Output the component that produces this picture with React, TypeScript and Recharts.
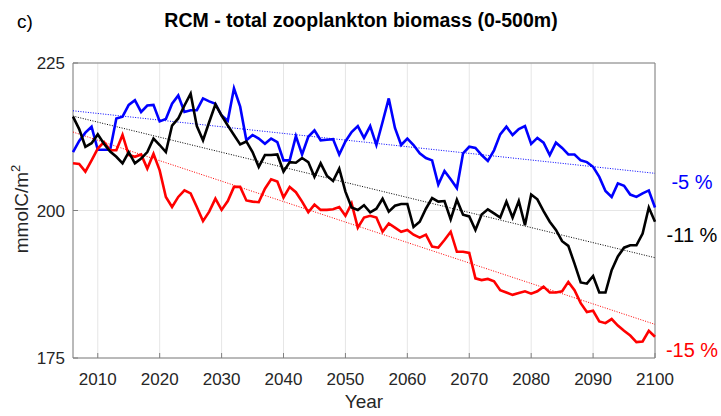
import { LineChart, Line, XAxis, YAxis, CartesianGrid, ReferenceLine, ReferenceArea } from 'recharts';

const FONT = '"Liberation Sans", Arial, Helvetica, sans-serif';

// annual means, 2006 to 2100
const firstYear = 2006;
const lastYear = 2100;

const blueSeries = [
  209.9, 211.8, 213.2, 214.2, 210.3, 210.3, 210.3, 215.6, 215.9, 217.9,
  218.7, 216.7, 217.8, 217.9, 215.1, 215.5, 218.1, 219.5, 216.7, 217.0,
  217.0, 219.0, 218.5, 218.1, 216.1, 215.2, 220.7, 217.6, 211.9, 212.8,
  212.2, 211.3, 212.2, 211.6, 208.5, 208.5, 212.6, 209.5, 212.5, 213.6,
  211.9, 212.0, 212.1, 209.5, 211.7, 213.3, 214.3, 212.3, 214.3, 211.1,
  215.0, 219.0, 214.0, 211.1, 212.2, 211.1, 209.7, 208.9, 208.5, 204.4,
  206.7, 205.3, 203.8, 209.7, 210.8, 210.6, 209.4, 208.4, 210.2, 212.9,
  214.2, 212.8, 213.8, 214.3, 211.3, 212.3, 211.5, 209.4, 211.5, 210.6,
  209.5, 209.5, 208.5, 208.2, 207.4, 205.7, 203.3, 202.3, 204.6, 204.2,
  202.7, 202.3, 202.9, 203.4, 200.5,
];

const blackSeries = [
  215.9, 213.8, 210.8, 211.4, 212.9, 211.3, 210.0, 209.1, 208.0, 209.9,
  208.0, 208.8, 209.9, 212.2, 211.1, 209.9, 214.4, 215.6, 217.8, 219.8,
  214.3, 211.9, 215.0, 218.0, 216.1, 214.4, 212.8, 211.2, 211.7, 209.9,
  207.4, 209.4, 209.4, 209.5, 206.6, 208.2, 208.1, 208.9, 208.2, 205.7,
  208.0, 205.9, 205.0, 207.1, 203.2, 200.5, 200.1, 200.9, 199.7, 200.3,
  202.0, 199.8, 200.8, 201.1, 201.1, 197.2, 198.1, 200.3, 202.1, 201.5,
  201.6, 198.5, 201.8, 199.3, 199.0, 196.7, 199.3, 200.2, 199.5, 198.8,
  201.5, 198.8, 201.6, 197.5, 202.7, 201.9, 199.9, 198.1, 196.7, 194.8,
  194.0, 191.0, 187.8, 187.6, 188.9, 186.1, 186.1, 189.9, 192.2, 193.7,
  194.1, 194.1, 196.1, 200.5, 198.1,
];

const redSeries = [
  208.0, 207.9, 206.6, 208.5, 210.5, 211.6, 210.2, 210.2, 212.8, 209.4,
  209.1, 209.5, 207.1, 209.6, 206.8, 202.3, 200.6, 202.3, 203.4, 202.9,
  200.6, 198.2, 199.8, 202.0, 200.1, 201.6, 204.0, 204.0, 201.7, 201.5,
  201.4, 203.7, 205.3, 204.9, 202.2, 204.0, 203.1, 201.5, 199.7, 201.0,
  200.1, 200.1, 200.2, 200.6, 199.1, 201.2, 197.1, 198.8, 199.1, 198.8,
  196.4, 197.8, 197.1, 196.4, 196.7, 195.9, 195.4, 195.9, 193.9, 193.7,
  195.0, 196.4, 193.0, 193.0, 192.8, 188.5, 188.2, 188.4, 188.0, 186.5,
  186.1, 185.7, 186.0, 186.3, 185.9, 186.3, 187.1, 186.1, 186.1, 186.3,
  187.9, 186.5, 184.3, 182.8, 183.0, 181.2, 180.9, 181.6, 180.5, 179.6,
  178.8, 177.7, 177.8, 179.6, 178.6,
];

// linear trend: value at 2006 and at 2100
const blueTrend = [216.9, 206.3];
const blackTrend = [216.0, 192.0];
const redTrend = [213.3, 180.7];

const changeLabels = ['-5 %', '-11 %', '-15 %'];

const xTicks = [2010, 2020, 2030, 2040, 2050, 2060, 2070, 2080, 2090, 2100];
const yTicks = [175, 200, 225];

const data = blueSeries.map((v, i) => ({
  year: firstYear + i,
  blue: v,
  black: blackSeries[i],
  red: redSeries[i],
}));

const trends = [
  { vals: blueTrend, color: '#0000ff' },
  { vals: blackTrend, color: '#000000' },
  { vals: redTrend, color: '#ff0000' },
];

const labelPos = [
  { y: 182, color: '#0000ff' },
  { y: 235, color: '#000000' },
  { y: 350, color: '#ff0000' },
];

const tickStyle = { fontSize: 17, fill: '#262626', fontFamily: FONT };

export default function App() {
  return (
    <div style={{ position: 'absolute', left: 0, top: 0, width: 721, height: 416, background: '#fff' }}>
      <LineChart
        width={721}
        height={416}
        data={data}
        margin={{ top: 63, right: 66, bottom: 28, left: 13 }}
      >
        <CartesianGrid stroke="#e6e6e6" strokeWidth={1} />
        <XAxis
          dataKey="year"
          type="number"
          domain={[firstYear, lastYear]}
          ticks={xTicks}
          interval={0}
          height={30}
          tickSize={-5}
          tickMargin={20}
          axisLine={false}
          tickLine={{ stroke: '#808080' }}
          tick={tickStyle}
        />
        <YAxis
          type="number"
          domain={[175, 225]}
          ticks={yTicks}
          interval={0}
          width={60}
          tickSize={-5}
          tickMargin={13}
          axisLine={false}
          tickLine={{ stroke: '#808080' }}
          tick={tickStyle}
        />
        {trends.map((t, i) => (
          <ReferenceLine
            key={i}
            segment={[
              { x: firstYear, y: t.vals[0] },
              { x: lastYear, y: t.vals[1] },
            ]}
            stroke={t.color}
            strokeWidth={1}
            strokeDasharray="1 1.5"
          />
        ))}
        <Line dataKey="blue" stroke="#0000ff" strokeWidth={2.6} dot={false} isAnimationActive={false} />
        <Line dataKey="red" stroke="#ff0000" strokeWidth={2.6} dot={false} isAnimationActive={false} />
        <Line dataKey="black" stroke="#000000" strokeWidth={2.6} dot={false} isAnimationActive={false} />
        <ReferenceArea x1={firstYear} x2={lastYear} y1={175} y2={225} fill="none" stroke="#808080" strokeWidth={1} />
      </LineChart>
      <svg
        width={721}
        height={416}
        style={{ position: 'absolute', left: 0, top: 0, pointerEvents: 'none' }}
        fontFamily={FONT}
      >
        <text x={17} y={28} fontSize={19} fill="#000">c)</text>
        <text x={361} y={27} fontSize={19.5} fontWeight="bold" textAnchor="middle" fill="#000">
          RCM - total zooplankton biomass (0-500m)
        </text>
        <text x={364} y={408} fontSize={19} textAnchor="middle" fill="#262626">Year</text>
        <text transform="translate(28,209) rotate(-90)" fontSize={19} textAnchor="middle" fill="#262626">
          mmolC/m<tspan fontSize={13} dy={-8}>2</tspan>
        </text>
        {changeLabels.map((lab, i) => (
          <text
            key={lab}
            x={692}
            y={labelPos[i].y}
            fontSize={20}
            textAnchor="middle"
            dominantBaseline="central"
            fill={labelPos[i].color}
          >
            {lab}
          </text>
        ))}
      </svg>
    </div>
  );
}
